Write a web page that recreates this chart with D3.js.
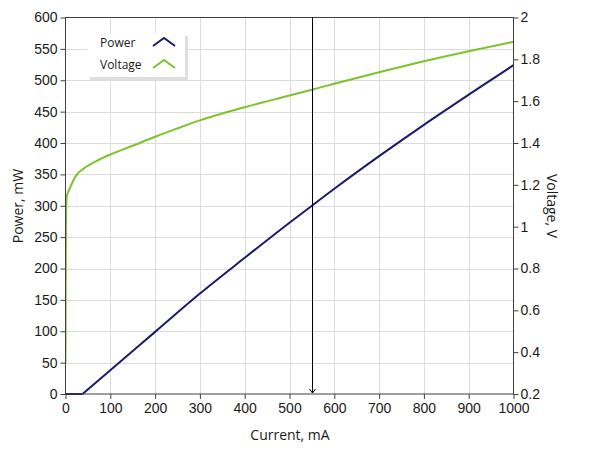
<!DOCTYPE html>
<html>
<head>
<meta charset="utf-8">
<script src="https://cdn.jsdelivr.net/npm/d3@7/dist/d3.min.js"></script>
<style>
  html, body { margin: 0; padding: 0; background: #fff; }
  svg { display: block; font-family: "Open Sans", "DejaVu Sans", sans-serif; }
</style>
</head>
<body>
<svg id="chart" width="589" height="456"></svg>
<script>
// ---- data ----
const powerCurrent = [0, 38, 100, 200, 300, 400, 500, 550, 600, 700, 800, 900, 1000];
const powerValues  = [0, 0, 38, 99, 160, 217, 273, 300, 327, 379, 429, 477, 524];

const voltageCurrent = [0, 0.5, 1, 2, 3, 5, 9, 15, 24, 42, 70, 100, 150, 200, 250, 300, 400, 500, 550, 600, 700, 800, 900, 1000];
const voltageValues  = [0.35, 0.7, 1.0, 1.12, 1.145, 1.16, 1.18, 1.21, 1.245, 1.28, 1.315, 1.345, 1.387, 1.43, 1.47, 1.508, 1.571, 1.627, 1.655, 1.683, 1.738, 1.791, 1.839, 1.884];

const xTicks = [0, 100, 200, 300, 400, 500, 600, 700, 800, 900, 1000];
const leftTicks = [0, 50, 100, 150, 200, 250, 300, 350, 400, 450, 500, 550, 600];
const rightTicks = [0.2, 0.4, 0.6, 0.8, 1, 1.2, 1.4, 1.6, 1.8, 2];
const cursorCurrent = 550;
const seriesNames = ["Power", "Voltage"];
const seriesColors = ["#1b1b6b", "#7cc42b"];

// ---- layout ----
const svg = d3.select("#chart");
const L = 65.5, R = 513.5, T = 17.5, B = 394;

const x = d3.scaleLinear().domain([0, 1000]).range([L, R]);
const yP = d3.scaleLinear().domain([0, 600]).range([B, T]);
const yV = d3.scaleLinear().domain([0.2, 2]).range([B, T]);

// grid
const grid = svg.append("g");
grid.selectAll("line.v").data(xTicks.slice(1, -1)).enter().append("line")
  .attr("x1", d => Math.round(x(d)) + 0.5).attr("x2", d => Math.round(x(d)) + 0.5)
  .attr("y1", T).attr("y2", B)
  .attr("stroke", "#dcdcdc").attr("stroke-width", 1);
grid.selectAll("line.h").data(leftTicks.slice(1, -1)).enter().append("line")
  .attr("y1", d => Math.round(yP(d)) + 0.5).attr("y2", d => Math.round(yP(d)) + 0.5)
  .attr("x1", L).attr("x2", R)
  .attr("stroke", "#dcdcdc").attr("stroke-width", 1);

// lines
svg.append("clipPath").attr("id", "clip").append("rect")
  .attr("x", L).attr("y", T).attr("width", R - L).attr("height", B - T);

const powerData = powerCurrent.map((c, i) => [c, powerValues[i]]);
const voltageData = voltageCurrent.map((c, i) => [c, voltageValues[i]]);
const lastZero = powerValues.lastIndexOf(0);
const powerFlat = powerData.slice(0, lastZero + 1);
const powerRise = powerData.slice(lastZero);

svg.append("path").datum(voltageData)
  .attr("clip-path", "url(#clip)")
  .attr("fill", "none").attr("stroke", seriesColors[1]).attr("stroke-width", 2)
  .attr("d", d3.line().curve(d3.curveMonotoneX).x(d => x(d[0])).y(d => yV(d[1])));

svg.append("path").datum(powerFlat)
  .attr("fill", "none").attr("stroke", seriesColors[0]).attr("stroke-width", 2)
  .attr("d", d3.line().x(d => x(d[0])).y(d => yP(d[1])));
svg.append("path").datum(powerRise)
  .attr("fill", "none").attr("stroke", seriesColors[0]).attr("stroke-width", 2)
  .attr("stroke-linejoin", "miter")
  .attr("d", d3.line().curve(d3.curveMonotoneX).x(d => x(d[0])).y(d => yP(d[1])));

// frame (axes lines)
svg.append("rect").attr("x", L).attr("y", T).attr("width", R - L).attr("height", B - T)
  .attr("fill", "none").attr("stroke", "#404040").attr("stroke-width", 1);

// axes
const fs = "14px";
const axB = svg.append("g").attr("transform", `translate(0,${B})`)
  .call(d3.axisBottom(x).tickValues(xTicks).tickSize(5).tickPadding(4).tickFormat(d3.format("d")));
const axL = svg.append("g").attr("transform", `translate(${L},0)`)
  .call(d3.axisLeft(yP).tickValues(leftTicks).tickSize(5).tickPadding(3).tickFormat(d3.format("d")));
const axR = svg.append("g").attr("transform", `translate(${R},0)`)
  .call(d3.axisRight(yV).tickValues(rightTicks).tickSize(5).tickPadding(2).tickFormat(d => String(+d.toFixed(1))));
[axB, axL, axR].forEach(a => {
  a.select(".domain").remove();
  a.selectAll("line").attr("stroke", "#404040");
  a.selectAll("text").attr("fill", "#1a1a1a").style("font-size", fs);
});

// axis titles
svg.append("text").attr("x", 290).attr("y", 440).attr("text-anchor", "middle")
  .style("font-size", fs).attr("fill", "#1a1a1a").text("Current, mA");
svg.append("text").attr("transform", "translate(23,206) rotate(-90)").attr("text-anchor", "middle")
  .style("font-size", fs).attr("fill", "#1a1a1a").text("Power, mW");
svg.append("text").attr("transform", "translate(547,206) rotate(90)").attr("text-anchor", "middle")
  .style("font-size", fs).attr("fill", "#1a1a1a").text("Voltage, V");

// cursor
const cx = Math.round(x(cursorCurrent)) + 0.5;
svg.append("line").attr("x1", cx).attr("x2", cx).attr("y1", T).attr("y2", B - 1)
  .attr("stroke", "#000").attr("stroke-width", 1);
svg.append("path").attr("d", `M${cx - 3},${B - 5} L${cx},${B - 1} L${cx + 3},${B - 5}`)
  .attr("fill", "none").attr("stroke", "#000").attr("stroke-width", 1);

// legend
const lg = svg.append("g");
lg.append("rect").attr("x", 90).attr("y", 36).attr("width", 98).attr("height", 44).attr("fill", "#dedede");
lg.append("rect").attr("x", 87).attr("y", 33).attr("width", 98).attr("height", 44).attr("fill", "#fff");
seriesNames.forEach((n, i) => {
  const yy = 42 + i * 22;
  lg.append("text").attr("x", 100).attr("y", yy + 4.5).style("font-size", "12px")
    .attr("fill", "#1a1a1a").text(n);
  lg.append("path").attr("d", `M153,${yy + 4} L164,${yy - 4} L175,${yy + 4}`)
    .attr("fill", "none").attr("stroke", seriesColors[i]).attr("stroke-width", 2);
});
</script>
</body>
</html>
